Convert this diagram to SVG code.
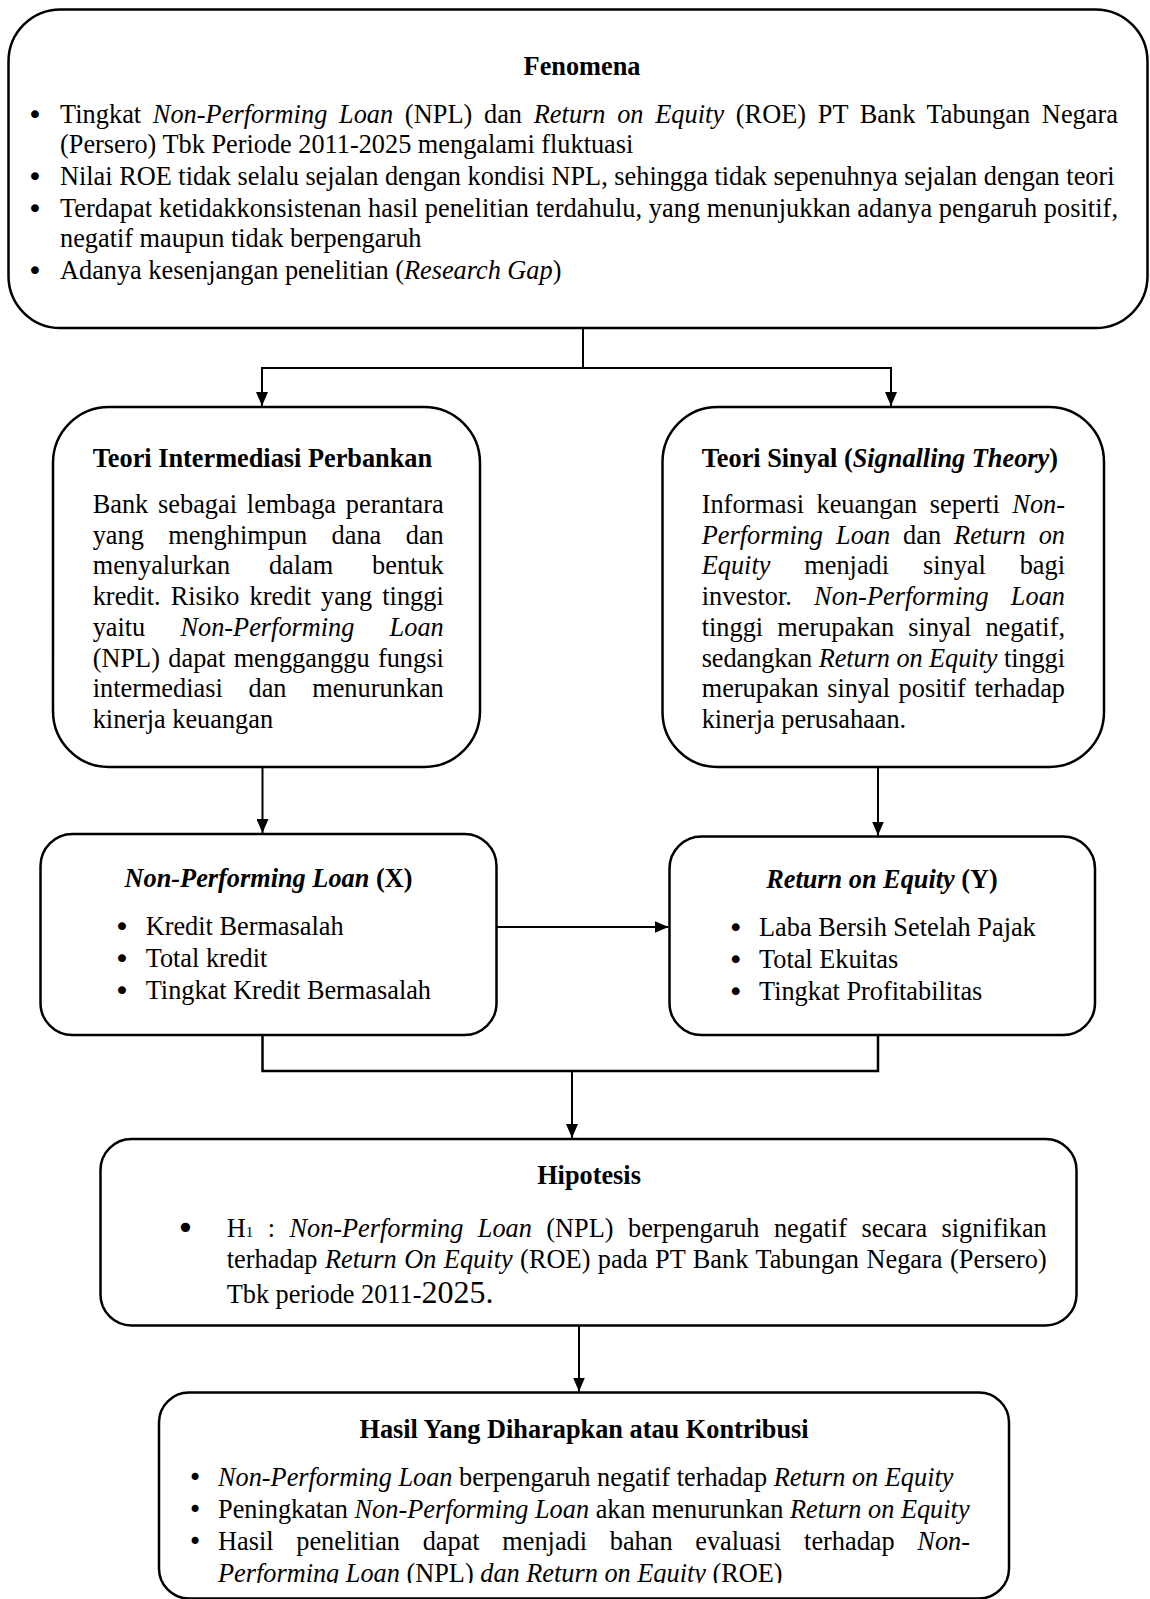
<svg xmlns="http://www.w3.org/2000/svg" width="1150" height="1599" viewBox="0 0 1150 1599">
<style>
.t{font-family:"Liberation Serif","Times New Roman",serif;font-size:26.3px;fill:#000}
.b{font-weight:bold}
.i{font-style:italic}
.box{fill:#fff;stroke:#000;stroke-width:2.5}
.conn{fill:none;stroke:#000;stroke-width:2}
.m{text-anchor:middle}
.bl{font-family:"DejaVu Sans",sans-serif;font-size:27px;fill:#000;text-anchor:middle}
</style>
<defs>
<marker id="arr" markerUnits="userSpaceOnUse" markerWidth="14" markerHeight="12" refX="14" refY="6" orient="auto"><path d="M0,0 L14,6 L0,12 z" fill="#000"/></marker>
<clipPath id="clipHasil"><rect x="150" y="1380" width="900" height="203"/></clipPath>
</defs>
<rect width="1150" height="1599" fill="#fff"/>

<g id="connectors">
<path class="conn" d="M583,328 V368 M261,368 H892"/>
<path class="conn" d="M262,368 V406" marker-end="url(#arr)"/>
<path class="conn" d="M891,368 V406" marker-end="url(#arr)"/>
<path class="conn" d="M262.5,767 V833" marker-end="url(#arr)"/>
<path class="conn" d="M878,767 V835.5" marker-end="url(#arr)"/>
<path class="conn" d="M496.5,927 H668.5" marker-end="url(#arr)"/>
<path class="conn" style="stroke-width:2.5" d="M262.5,1035 V1071 H878 V1035"/>
<path class="conn" d="M572,1071 V1138" marker-end="url(#arr)"/>
<path class="conn" d="M579,1325.5 V1391.5" marker-end="url(#arr)"/>
</g>

<g id="fenomena">
<rect class="box" x="8.5" y="9.5" width="1139" height="318.5" rx="52"/>
<text class="t b m" x="582" y="75">Fenomena</text>
<text class="bl" x="35" y="124">•</text>
<text class="bl" x="35" y="186">•</text>
<text class="bl" x="35" y="218">•</text>
<text class="bl" x="35" y="280">•</text>
<text class="t" x="60" y="123" word-spacing="5" textLength="1058" lengthAdjust="spacing">Tingkat <tspan class="i">Non-Performing Loan</tspan> (NPL) dan <tspan class="i">Return on Equity</tspan> (ROE) PT Bank Tabungan Negara</text>
<text class="t" x="60" y="153">(Persero) Tbk Periode 2011-2025 mengalami fluktuasi</text>
<text class="t" x="60" y="185">Nilai ROE tidak selalu sejalan dengan kondisi NPL, sehingga tidak sepenuhnya sejalan dengan teori</text>
<text class="t" x="60" y="217" textLength="1058" lengthAdjust="spacing">Terdapat ketidakkonsistenan hasil penelitian terdahulu, yang menunjukkan adanya pengaruh positif,</text>
<text class="t" x="60" y="247">negatif maupun tidak berpengaruh</text>
<text class="t" x="60" y="279">Adanya kesenjangan penelitian (<tspan class="i">Research Gap</tspan>)</text>
</g>

<g id="teori-intermediasi">
<rect class="box" x="53" y="407" width="427" height="360" rx="56"/>
<text class="t b" x="92.7" y="467">Teori Intermediasi Perbankan</text>
<text class="t" x="92.7" y="513" word-spacing="3.3" textLength="351" lengthAdjust="spacing">Bank sebagai lembaga perantara</text>
<text class="t" x="92.7" y="543.7" word-spacing="17.9" textLength="351" lengthAdjust="spacing">yang menghimpun dana dan</text>
<text class="t" x="92.7" y="574.4" word-spacing="32.3" textLength="351" lengthAdjust="spacing">menyalurkan dalam bentuk</text>
<text class="t" x="92.7" y="605.1" word-spacing="3.5" textLength="351" lengthAdjust="spacing">kredit. Risiko kredit yang tinggi</text>
<text class="t" x="92.7" y="635.9" word-spacing="28.7" textLength="351" lengthAdjust="spacing">yaitu <tspan class="i">Non-Performing Loan</tspan></text>
<text class="t" x="92.7" y="666.6" word-spacing="1.8" textLength="351" lengthAdjust="spacing">(NPL) dapat mengganggu fungsi</text>
<text class="t" x="92.7" y="697.3" word-spacing="19.2" textLength="351" lengthAdjust="spacing">intermediasi dan menurunkan</text>
<text class="t" x="92.7" y="728">kinerja keuangan</text>
</g>

<g id="teori-sinyal">
<rect class="box" x="662.5" y="407" width="441.5" height="360" rx="55"/>
<text class="t b" x="701.7" y="467">Teori Sinyal (<tspan class="i">Signalling Theory</tspan>)</text>
<text class="t" x="701.7" y="513" word-spacing="5.9" textLength="363.3" lengthAdjust="spacing">Informasi keuangan seperti <tspan class="i">Non-</tspan></text>
<text class="t" x="701.7" y="543.7" word-spacing="6.4" textLength="363.3" lengthAdjust="spacing"><tspan class="i">Performing Loan</tspan> dan <tspan class="i">Return on</tspan></text>
<text class="t" x="701.7" y="574.4" word-spacing="27.3" textLength="363.3" lengthAdjust="spacing"><tspan class="i">Equity</tspan> menjadi sinyal bagi</text>
<text class="t" x="701.7" y="605.1" word-spacing="15.5" textLength="363.3" lengthAdjust="spacing">investor. <tspan class="i">Non-Performing Loan</tspan></text>
<text class="t" x="701.7" y="635.9" word-spacing="7.6" textLength="363.3" lengthAdjust="spacing">tinggi merupakan sinyal negatif,</text>
<text class="t" x="701.7" y="666.6" textLength="363.3" lengthAdjust="spacing">sedangkan <tspan class="i">Return on Equity</tspan> tinggi</text>
<text class="t" x="701.7" y="697.3" word-spacing="2" textLength="363.3" lengthAdjust="spacing">merupakan sinyal positif terhadap</text>
<text class="t" x="701.7" y="728">kinerja perusahaan.</text>
</g>

<g id="npl">
<rect class="box" x="40.5" y="834" width="456" height="201" rx="32"/>
<text class="t b m" x="268.5" y="887"><tspan class="i">Non-Performing Loan</tspan> (X)</text>
<text class="bl" x="122" y="936">•</text>
<text class="bl" x="122" y="968">•</text>
<text class="bl" x="122" y="1000">•</text>
<text class="t" x="145.7" y="935">Kredit Bermasalah</text>
<text class="t" x="145.7" y="967">Total kredit</text>
<text class="t" x="145.7" y="999">Tingkat Kredit Bermasalah</text>
</g>

<g id="roe">
<rect class="box" x="669.5" y="836.5" width="425.5" height="198.5" rx="32"/>
<text class="t b m" x="882" y="888"><tspan class="i">Return on Equity</tspan> (Y)</text>
<text class="bl" x="735.6" y="937">•</text>
<text class="bl" x="735.6" y="969">•</text>
<text class="bl" x="735.6" y="1001">•</text>
<text class="t" x="759" y="936">Laba Bersih Setelah Pajak</text>
<text class="t" x="759" y="968">Total Ekuitas</text>
<text class="t" x="759" y="1000">Tingkat Profitabilitas</text>
</g>

<g id="hipotesis">
<rect class="box" x="100.5" y="1139" width="976" height="186.5" rx="31"/>
<text class="t b m" x="589" y="1184">Hipotesis</text>
<text class="bl" x="185.5" y="1239" style="font-size:32px">•</text>
<text class="t" x="226.7" y="1237" word-spacing="7.9" textLength="820" lengthAdjust="spacing">H<tspan style="font-size:15px">1</tspan> : <tspan class="i">Non-Performing Loan</tspan> (NPL) berpengaruh negatif secara signifikan</text>
<text class="t" x="226.7" y="1268" word-spacing="0.8" textLength="820" lengthAdjust="spacing">terhadap <tspan class="i">Return On Equity</tspan> (ROE) pada PT Bank Tabungan Negara (Persero)</text>
<text class="t" x="226.7" y="1303">Tbk periode 2011-<tspan style="font-size:32px">2025.</tspan></text>
</g>

<g id="hasil">
<rect class="box" x="159" y="1392.5" width="850" height="206" rx="30"/>
<text class="t b m" x="584" y="1438">Hasil Yang Diharapkan atau Kontribusi</text>
<text class="bl" x="195" y="1486" style="font-size:24px">•</text>
<text class="bl" x="195" y="1518" style="font-size:24px">•</text>
<text class="bl" x="195" y="1550" style="font-size:24px">•</text>
<text class="t" x="218" y="1486"><tspan class="i">Non-Performing Loan</tspan> berpengaruh negatif terhadap <tspan class="i">Return on Equity</tspan></text>
<text class="t" x="218" y="1518">Peningkatan <tspan class="i">Non-Performing Loan</tspan> akan menurunkan <tspan class="i">Return on Equity</tspan></text>
<text class="t" x="218" y="1550" word-spacing="16.1" textLength="752" lengthAdjust="spacing">Hasil penelitian dapat menjadi bahan evaluasi terhadap <tspan class="i">Non-</tspan></text>
<text class="t" x="218" y="1582" clip-path="url(#clipHasil)"><tspan class="i">Performing Loan</tspan> (NPL) <tspan class="i">dan Return on Equity</tspan> (ROE)</text>
</g>
</svg>
